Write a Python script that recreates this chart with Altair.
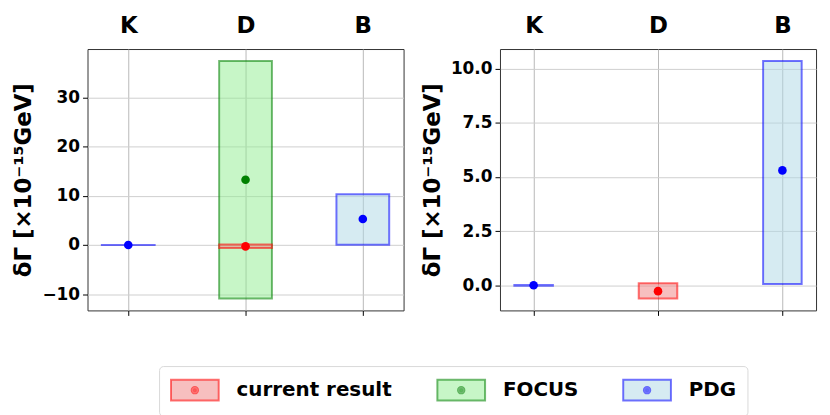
import altair as alt
import pandas as pd

# ---------------- data ----------------
categories = ["K", "D", "B"]
series_order = ["current result", "FOCUS", "PDG"]

meas_series = ["FOCUS", "current result", "PDG", "PDG"]
meas_cat = ["D", "D", "K", "B"]
meas_center = [13.3, -0.27, 0.0, 5.3]
meas_low = [-10.9, -0.61, -0.02, 0.06]
meas_high = [37.5, 0.09, 0.02, 10.35]

left_ticks = [-10, 0, 10, 20, 30]
right_ticks = [0.0, 2.5, 5.0, 7.5, 10.0]

fill_colors = ["rgba(240,128,128,0.5)", "rgba(144,238,144,0.5)", "rgba(173,216,230,0.5)"]
edge_colors = ["rgba(255,0,0,0.55)", "rgba(0,128,0,0.55)", "rgba(0,0,255,0.55)"]
dot_colors = ["#ff0000", "#008000", "#0000ff"]

FONT = "DejaVu Sans"

df_all = pd.DataFrame({
    "series": meas_series,
    "cat": meas_cat,
    "idx": [categories.index(c) for c in meas_cat],
    "center": meas_center,
    "low": meas_low,
    "high": meas_high,
})

LX, LY = 72, 319


def circle(r):
    return f"M{-r},0A{r},{r} 0 1,0 {r},0A{r},{r} 0 1,0 {-r},0Z"


# legend handle: a box with a marker dot in its middle (unit = 12 px)
handle_path = ("M-2,-0.875H2V0.875H-2Z " + circle(0.067) + " " + circle(0.167)
               + " " + circle(0.267))

legA = alt.Legend(
    title=None, orient="none", legendX=LX, legendY=LY, direction="horizontal",
    symbolType=handle_path, symbolSize=576, symbolOffset=12, symbolStrokeWidth=2,
    labelFontSize=20, labelFont=FONT, labelFontWeight="bold", labelColor="black",
    labelOffset=29, columnPadding=41, padding=11,
    strokeColor="#d9d9d9", cornerRadius=4,
)

fill_scale = alt.Scale(domain=series_order, range=fill_colors)
stroke_scale = alt.Scale(domain=series_order, range=edge_colors)
dot_scale = alt.Scale(domain=series_order, range=dot_colors)

label_expr = "[" + ",".join("'%s'" % c for c in categories) + "][datum.value]"


def panel(df, hw, yticks, yfmt, ytitle):
    n = len(categories) - 1
    span = n + 2 * hw
    xdom = [-hw - 0.05 * span, n + hw + 0.05 * span]
    ylo, yhi = df["low"].min(), df["high"].max()
    m = 0.05 * (yhi - ylo)
    ydom = [ylo - m, yhi + m]
    xscale = alt.Scale(domain=xdom, nice=False, zero=False)
    yscale = alt.Scale(domain=ydom, nice=False, zero=False)
    yaxis = alt.Axis(values=yticks, format=yfmt, title=ytitle, grid=True,
                     gridColor="#cfcfcf", gridWidth=1, domain=False,
                     tickSize=5, tickColor="black", labelPadding=3,
                     labelFontSize=17, labelFont=FONT, labelFontWeight="bold",
                     labelColor="black", titleFontSize=23, titleFont=FONT,
                     titleFontWeight="bold", titleColor="black",
                     titlePadding=6)
    base = alt.Chart(df).transform_calculate(
        x0=f"datum.idx - {hw}", x1=f"datum.idx + {hw}"
    )
    rects = base.mark_rect(strokeWidth=2).encode(
        x=alt.X("x0:Q", scale=xscale,
                axis=alt.Axis(orient="bottom", values=list(range(len(categories))),
                              labels=False, title=None, domain=False, ticks=True,
                              tickSize=5, tickColor="black", tickWidth=1,
                              grid=True, gridColor="#b8b8b8", gridWidth=1)),
        x2="x1:Q",
        y=alt.Y("low:Q", scale=yscale, axis=yaxis),
        y2="high:Q",
        fill=alt.Fill("series:N", scale=fill_scale, legend=legA),
        stroke=alt.Stroke("series:N", scale=stroke_scale, legend=legA),
    )
    points = base.mark_point(filled=True, size=75, opacity=1).encode(
        x=alt.X("idx:Q", scale=xscale,
                axis=alt.Axis(orient="top", values=list(range(len(categories))),
                              labelExpr=label_expr, title=None, domain=False,
                              ticks=False, tickSize=0, grid=False, labelPadding=12,
                              labelFontSize=23, labelFont=FONT, labelFontWeight="bold",
                              labelColor="black")),
        y=alt.Y("center:Q", scale=yscale, axis=yaxis),
        color=alt.Color("series:N", scale=dot_scale, legend=None),
    )
    return alt.layer(rects, points).properties(width=318, height=263)


left = panel(df_all, 0.225, left_ticks, "d", "δΓ  [×10⁻¹⁵GeV]")
right = panel(df_all[df_all["series"] != "FOCUS"], 0.155, right_ticks, ".1f",
              "δΓ [×10⁻¹⁵GeV]")

chart = alt.hconcat(left, right, spacing=16).configure_view(
    stroke="#333333", strokeWidth=1
).properties(padding={"left": 4, "top": 4, "right": 5, "bottom": 5})

chart.save("out.html", embed_options={"renderer": "svg", "actions": False})
